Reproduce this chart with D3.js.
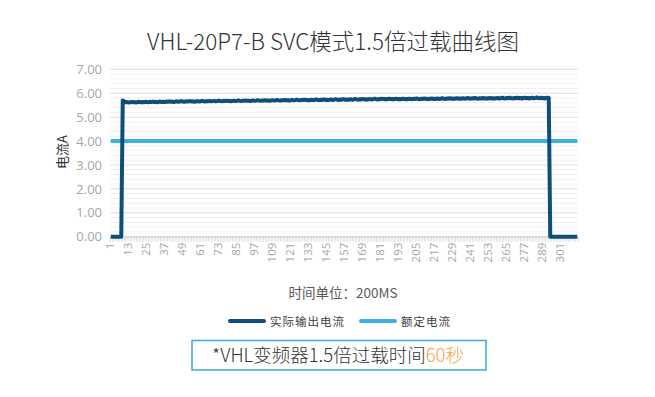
<!DOCTYPE html>
<html><head><meta charset="utf-8">
<script src="https://cdn.jsdelivr.net/npm/d3@7"></script>
<style>
body{margin:0;background:#fff;}
svg{display:block;font-family:"Noto Sans CJK SC","Noto Sans",sans-serif;}
</style></head>
<body>
<svg id="c" width="655" height="397"></svg>
<script>
const title = "VHL-20P7-B SVC模式1.5倍过载曲线图";
const yTitle = "电流A";
const xTitle = "时间单位：200MS";
const seriesNames = ["实际输出电流", "额定电流"];
const yTicks = [0, 1, 2, 3, 4, 5, 6, 7];
const leadZeros = [0,0,0,0,0,0,0,0];
const actualOn = [
5.70,5.66,5.62,5.63,5.61,5.62,5.64,5.62,5.63,5.61,5.63,5.64,5.62,5.63,5.62,
5.64,5.63,5.62,5.64,5.63,5.65,5.63,5.64,5.62,5.64,5.65,5.63,5.64,5.63,5.65,
5.64,5.66,5.64,5.65,5.63,5.65,5.66,5.64,5.65,5.67,5.65,5.64,5.66,5.65,5.66,
5.67,5.65,5.66,5.64,5.66,5.67,5.65,5.66,5.68,5.66,5.65,5.67,5.66,5.68,5.66,
5.67,5.68,5.66,5.67,5.69,5.67,5.66,5.68,5.67,5.69,5.67,5.68,5.66,5.68,5.69,
5.67,5.68,5.70,5.68,5.67,5.69,5.68,5.70,5.68,5.69,5.67,5.69,5.70,5.68,5.69,
5.71,5.69,5.68,5.70,5.69,5.71,5.69,5.70,5.68,5.70,5.71,5.69,5.70,5.72,5.70,
5.69,5.71,5.70,5.72,5.70,5.71,5.69,5.71,5.72,5.70,5.71,5.73,5.71,5.70,5.72,
5.71,5.73,5.71,5.72,5.70,5.72,5.73,5.71,5.72,5.74,5.72,5.71,5.73,5.72,5.74,
5.72,5.73,5.71,5.73,5.74,5.72,5.73,5.75,5.73,5.72,5.74,5.73,5.75,5.73,5.74,
5.72,5.74,5.75,5.73,5.74,5.76,5.74,5.73,5.75,5.74,5.76,5.74,5.75,5.73,5.75,
5.76,5.74,5.75,5.77,5.75,5.74,5.76,5.75,5.77,5.75,5.76,5.74,5.76,5.77,5.75,
5.76,5.75,5.77,5.75,5.76,5.74,5.76,5.77,5.75,5.76,5.75,5.77,5.76,5.75,5.77,
5.76,5.78,5.76,5.75,5.77,5.76,5.78,5.76,5.77,5.75,5.77,5.78,5.76,5.77,5.76,
5.78,5.76,5.77,5.79,5.77,5.76,5.78,5.77,5.79,5.77,5.78,5.76,5.78,5.79,5.77,
5.78,5.77,5.79,5.77,5.78,5.80,5.78,5.77,5.79,5.78,5.80,5.78,5.77,5.79,5.78,
5.80,5.78,5.79,5.77,5.79,5.80,5.78,5.79,5.77,5.79,5.80,5.78,5.79,5.81,5.79,
5.78,5.80,5.79,5.81,5.79,5.78,5.80,5.79,5.81,5.79,5.80,5.78,5.80,5.81,5.79,
5.80,5.78,5.80,5.81,5.79,5.80,5.82,5.80,5.79,5.81,5.80,5.78,5.80,5.81,5.80
];
const trailZeros = [0,0,0,0,0,0,0,0,0,0,0,0,0,0,0,0,0,0,0];
const actual = leadZeros.concat(actualOn, trailZeros);
const categories = actual.map((d, i) => i + 1);
const rated = categories.map(() => 4);
const labelStep = 12;
const noteText = "*VHL变频器1.5倍过载时间";
const noteHighlight = "60秒";

const svg = d3.select("#c");
const m = {l: 110, r: 578, t: 69.3, b: 236.7};
const x = d3.scaleBand().domain(categories).range([m.l, m.r]).padding(0);
const y = d3.scaleLinear().domain([0, 7]).range([m.b, m.t]);
const cx = c => x(c) + x.bandwidth() / 2;

// minor grid
const minor = d3.range(0, 7.001, 0.2).filter(v => Math.abs(v - Math.round(v)) > 0.01);
svg.append("g").selectAll("line").data(minor).join("line")
  .attr("x1", m.l).attr("x2", m.r).attr("y1", d => y(d)).attr("y2", d => y(d))
  .attr("stroke", "#f0f0f0").attr("stroke-width", 1);
// major grid
svg.append("g").selectAll("line").data(yTicks).join("line")
  .attr("x1", m.l).attr("x2", m.r).attr("y1", d => y(d)).attr("y2", d => y(d))
  .attr("stroke", "#dcdcdc").attr("stroke-width", 1);

// y axis labels
const yAxis = d3.axisLeft(y).tickValues(yTicks).tickFormat(d3.format(".2f")).tickSize(0).tickPadding(8);
const ga = svg.append("g").attr("transform", `translate(${m.l},0)`).call(yAxis);
ga.select(".domain").remove();
ga.selectAll("text").attr("fill", "#a6a6a6").style("font-size", "13px")
  .style("font-family", "'Open Sans','Noto Sans',sans-serif");

// x axis
const xAxis = d3.axisBottom(x)
  .tickValues(categories.filter(c => (c - 1) % labelStep === 0))
  .tickSize(0).tickPadding(0);
const gx = svg.append("g").attr("transform", `translate(0,${m.b})`).call(xAxis);
gx.select(".domain").attr("stroke", "#d0d0d0");
gx.selectAll("text").attr("fill", "#a6a6a6").style("font-size", "11.5px")
  .style("font-family", "'Open Sans','Noto Sans',sans-serif")
  .attr("text-anchor", "end").attr("dy", "0.35em")
  .attr("transform", "translate(-1,6) rotate(-90)").attr("x", 0).attr("y", 0);
// minor tick marks every 2 categories
svg.append("g").selectAll("line").data(categories.filter(c => c % 2 === 1).concat([categories.length + 1]))
  .join("line")
  .attr("x1", d => d <= categories.length ? x(d) : m.r)
  .attr("x2", d => d <= categories.length ? x(d) : m.r)
  .attr("y1", m.b).attr("y2", m.b + 5)
  .attr("stroke", "#d0d0d0").attr("stroke-width", 1);

// rated line
const line = d3.line().x((d, i) => cx(categories[i])).y(d => y(d));
svg.append("path").datum(rated).attr("d", line)
  .attr("fill", "none").attr("stroke", "#3cb0e3").attr("stroke-width", 4);
// actual line
svg.append("path").datum(actual).attr("d", line)
  .attr("fill", "none").attr("stroke", "#0e4e7b").attr("stroke-width", 4)
  .attr("stroke-linejoin", "round");

// titles
svg.append("text").attr("x", 333).attr("y", 50).attr("text-anchor", "middle")
  .attr("fill", "#333").style("font-size", "22.5px").style("font-weight", "300").text(title);
svg.append("text").attr("transform", "translate(67,152) rotate(-90)").attr("text-anchor", "middle")
  .attr("fill", "#333").style("font-size", "13px").text(yTitle);
svg.append("text").attr("x", 343).attr("y", 298).attr("text-anchor", "middle")
  .attr("fill", "#595959").style("font-size", "13.5px").text(xTitle);

// legend
const legend = [
  {name: seriesNames[0], color: "#0e4e7b", x: 230},
  {name: seriesNames[1], color: "#3cb0e3", x: 361}
];
const lg = svg.append("g").selectAll("g").data(legend).join("g")
  .attr("transform", d => `translate(${d.x},321)`);
lg.append("line").attr("x1", 0).attr("x2", 34).attr("y1", 0).attr("y2", 0)
  .attr("stroke", d => d.color).attr("stroke-width", 4).attr("stroke-linecap", "round");
lg.append("text").attr("x", 40).attr("y", 4.5).attr("fill", "#404040")
  .style("font-size", "11.5px").style("letter-spacing", "1px").text(d => d.name);

// note box
svg.append("rect").attr("x", 192).attr("y", 340.5).attr("width", 294).attr("height", 29.5)
  .attr("fill", "#fff").attr("stroke", "#3aa9dc").attr("stroke-width", 1.5);
const nt = svg.append("text").attr("x", 338).attr("y", 362).attr("text-anchor", "middle")
  .style("font-size", "18.5px").style("font-weight", "300");
nt.append("tspan").attr("fill", "#333").text(noteText);
nt.append("tspan").attr("fill", "#f5a24b").text(noteHighlight);
</script>
</body></html>
